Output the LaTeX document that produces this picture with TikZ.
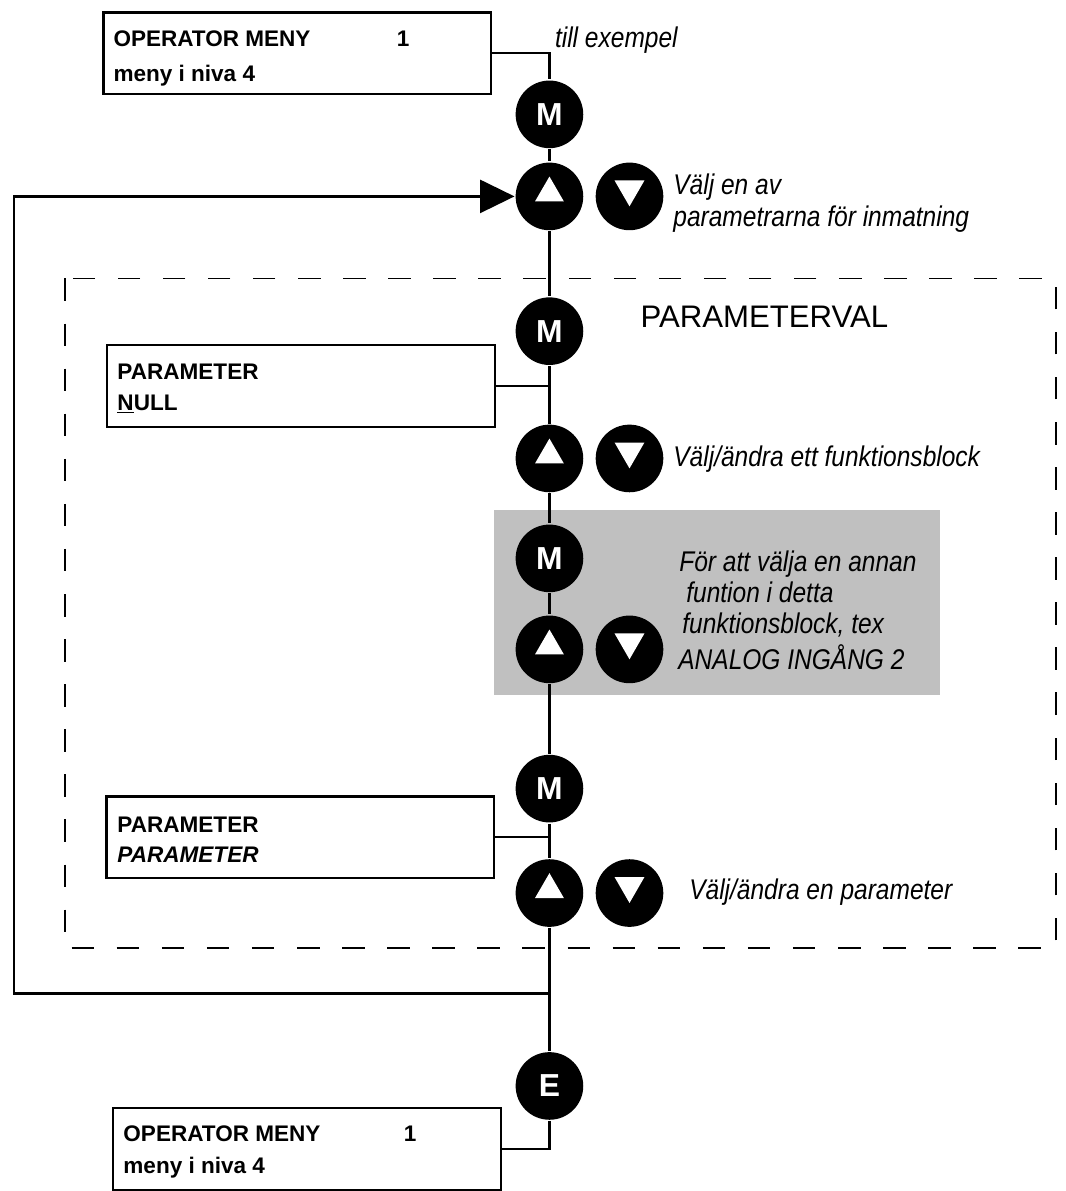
\documentclass[tikz,border=0pt]{standalone}
\usepackage{fontspec}
\setmainfont{Liberation Sans}
\newfontfamily\descfont[FakeStretch=0.86]{Liberation Sans}
\usetikzlibrary{arrows.meta, calc}
\definecolor{panelgray}{RGB}{192,192,192}

\begin{document}
\begin{tikzpicture}[x=0.75pt, y=-0.75pt, line width=1.7pt,
  lcdbox/.style={draw, minimum width=292.5pt, minimum height=61.5pt, inner sep=0pt},
  lcdtext/.style={anchor=base west, inner sep=0pt, font=\fontsize{17}{20}\selectfont\bfseries},
  desc/.style={anchor=base west, inner sep=0pt, font=\descfont\fontsize{21.5}{25}\selectfont\itshape},
  key/.style={circle, fill=black, minimum size=51pt, inner sep=0pt, text=white,
    font=\fontsize{24}{27}\selectfont\bfseries},
  keyup/.style={key, path picture={\fill[white] ($(path picture bounding box.center)+(-14.5,5)$)
    -- ++(29,0) -- ++(-14.5,-25) -- cycle;}},
  keydown/.style={key, path picture={\fill[white] ($(path picture bounding box.center)+(-15,-16)$)
    -- ++(30,0) -- ++(-15,26) -- cycle;}}]
  \fill[white] (0,0) rectangle (1071,1191);

  % shaded panel and dashed frame
  \fill[panelgray] (497,513) rectangle (945,699);
  \draw[line width=1.4pt, dash pattern=on 17pt off 17pt] (65,280) rectangle (1062,953);
  \node[font=\fontsize{23.5}{27}\selectfont, anchor=base west, inner sep=0pt] (selhead) at (643,329) {PARAMETERVAL};

  % operator menu, top
  \node[lcdbox] (opmenu) at (299,53.5) {};
  \node[lcdtext] (opmenutitle) at (113,47) {OPERATOR MENY};
  \node[lcdtext] (opmenunum) at (398,47) {1};
  \node[lcdtext] (opmenulevel) at (113,81.5) {meny i niva 4};
  \node[desc] (tillex) at (557,48) {till exempel};

  % keys
  \node[key] (m1) at (552.5,115) {M};
  \node[keyup] (up1) at (552.5,197.5) {};
  \node[keydown] (dn1) at (633,197.5) {};
  \node[desc] (hint1a) at (676,196) {Välj en av};
  \node[desc] (hint1b) at (676,228) {parametrarna för inmatning};

  \node[key] (m2) at (552.5,333) {M};
  \node[lcdbox] (nullbox) at (302.5,388) {};
  \node[lcdtext] (nulltitle) at (117,382) {PARAMETER};
  \node[lcdtext] (nullvalue) at (117,413) {\underline{N}ULL};
  \node[keyup] (up2) at (552.5,461) {};
  \node[keydown] (dn2) at (633,461) {};
  \node[desc] (hint2) at (676,469) {Välj/ändra ett funktionsblock};

  \node[key] (m3) at (552.5,561.5) {M};
  \node[keyup] (up3) at (552.5,653) {};
  \node[keydown] (dn3) at (633,653) {};
  \node[desc] (hint3a) at (682,575) {För att välja en annan};
  \node[desc] (hint3b) at (689,606) {funtion i detta};
  \node[desc] (hint3c) at (685,637) {funktionsblock, tex};
  \node[desc] (hint3d) at (681,673) {ANALOG INGÅNG 2};

  \node[key] (m4) at (552.5,793) {M};
  \node[lcdbox] (parbox) at (302,842) {};
  \node[lcdtext] (partitle) at (117,837) {PARAMETER};
  \node[lcdtext] (parvalue) at (117,867) {\itshape PARAMETER};
  \node[keyup] (up4) at (552.5,898) {};
  \node[keydown] (dn4) at (633,898) {};
  \node[desc] (hint4) at (692,904) {Välj/ändra en parameter};

  % exit, back to operator menu
  \node[key] (ekey) at (552.5,1092) {E};
  \node[lcdbox] (opmenu2) at (309,1155.5) {};
  \node[lcdtext] (opmenu2title) at (123,1148) {OPERATOR MENY};
  \node[lcdtext] (opmenu2num) at (405,1148) {1};
  \node[lcdtext] (opmenu2level) at (123,1180) {meny i niva 4};

  % connectors
  \draw (opmenu.east) -| (m1);
  \foreach \a/\b in {m1/up1, up1/m2, m2/up2, up2/m3, m3/up3, up3/m4, m4/up4, up4/ekey}
    \draw (\a) -- (\b);
  \draw (nullbox.east) -- (nullbox.east -| m2.center);
  \draw (parbox.east) -- (parbox.east -| m4.center);
  \draw (ekey) |- (opmenu2.east);

  % loop back
  \coordinate (loopfoot) at (552.5,999);
  \coordinate (loopleft) at (14,197.5);
  \draw[-{Triangle[length=26pt, width=25pt]}] (loopfoot) -| (loopleft) -- (up1);
\end{tikzpicture}
\end{document}
